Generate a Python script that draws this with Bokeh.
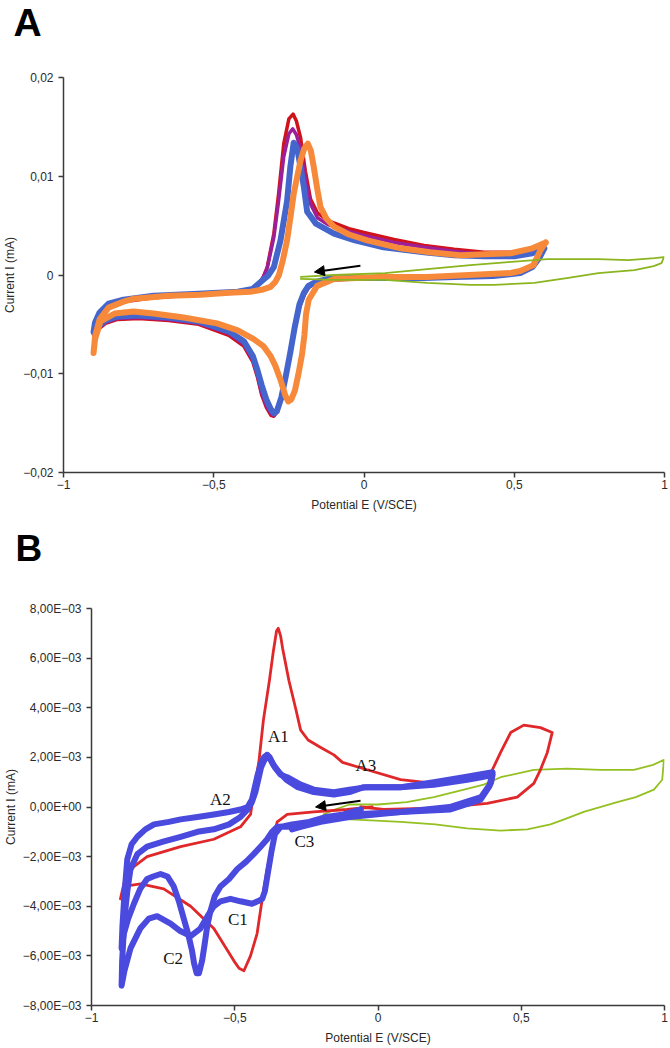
from bokeh.plotting import figure
from bokeh.models import Range1d, FixedTicker, Label, Arrow, NormalHead, Title
from bokeh.embed import file_html
from bokeh.resources import INLINE

# ---------------- ticks ----------------
X_TICKS = [-1, -0.5, 0, 0.5, 1]
X_TICK_LABELS = ["−1", "−0,5", "0", "0,5", "1"]
A_Y_TICKS = [-0.02, -0.01, 0, 0.01, 0.02]
A_Y_TICK_LABELS = ["−0,02", "−0,01", "0", "0,01", "0,02"]
B_Y_TICKS = [-0.008, -0.006, -0.004, -0.002, 0, 0.002, 0.004, 0.006, 0.008]
B_Y_TICK_LABELS = ["−8,00E−03", "−6,00E−03", "−4,00E−03", "−2,00E−03", "0,00E+00",
                   "2,00E−03", "4,00E−03", "6,00E−03", "8,00E−03"]

# ---------------- panel A data (E in V/SCE, I in mA) ----------------
A_RED = [(0.600, 0.0028), (0.585, 0.0019), (0.560, 0.0009), (0.520, 0.0003), (0.430, 0.0000),
         (0.300, -0.0002), (0.200, -0.0003), (0.050, -0.0004), (-0.050, -0.0004), (-0.120, -0.0005),
         (-0.160, -0.0008), (-0.185, -0.0013), (-0.200, -0.0021), (-0.215, -0.0033), (-0.230, -0.0055),
         (-0.245, -0.0080), (-0.260, -0.0104), (-0.275, -0.0126), (-0.290, -0.0139), (-0.300, -0.0143),
         (-0.310, -0.0142), (-0.325, -0.0134), (-0.340, -0.0122), (-0.355, -0.0103), (-0.370, -0.0088),
         (-0.400, -0.0072), (-0.450, -0.0061), (-0.550, -0.0050), (-0.650, -0.0046), (-0.750, -0.0044),
         (-0.820, -0.0045), (-0.860, -0.0049), (-0.885, -0.0055), (-0.900, -0.0061), (-0.895, -0.0052),
         (-0.880, -0.0041), (-0.850, -0.0032), (-0.800, -0.0027), (-0.700, -0.0023), (-0.550, -0.0020),
         (-0.420, -0.0018), (-0.370, -0.0015), (-0.350, -0.0009), (-0.335, -0.0002), (-0.322, 0.0008),
         (-0.300, 0.0042), (-0.285, 0.0080), (-0.267, 0.0133), (-0.250, 0.0158), (-0.236, 0.0163),
         (-0.225, 0.0156), (-0.211, 0.0139), (-0.195, 0.0105), (-0.178, 0.0077), (-0.155, 0.0063),
         (-0.120, 0.0055), (-0.050, 0.0047), (0.000, 0.0043), (0.100, 0.0036), (0.200, 0.0030),
         (0.300, 0.0026), (0.400, 0.0023), (0.500, 0.0023), (0.560, 0.0025), (0.600, 0.0028)]

A_PURPLE = [(0.600, 0.0027), (0.585, 0.0018), (0.560, 0.0008), (0.520, 0.0002), (0.430, -0.0001),
            (0.300, -0.0002), (0.200, -0.0003), (0.050, -0.0004), (-0.050, -0.0004), (-0.120, -0.0005),
            (-0.160, -0.0008), (-0.185, -0.0012), (-0.200, -0.0020), (-0.215, -0.0032), (-0.230, -0.0054),
            (-0.245, -0.0079), (-0.260, -0.0103), (-0.275, -0.0125), (-0.290, -0.0139), (-0.300, -0.0142),
            (-0.310, -0.0140), (-0.325, -0.0132), (-0.340, -0.0120), (-0.355, -0.0101), (-0.370, -0.0086),
            (-0.400, -0.0070), (-0.450, -0.0059), (-0.550, -0.0049), (-0.650, -0.0045), (-0.750, -0.0043),
            (-0.820, -0.0044), (-0.860, -0.0048), (-0.885, -0.0054), (-0.900, -0.0059), (-0.895, -0.0050),
            (-0.880, -0.0040), (-0.850, -0.0031), (-0.800, -0.0026), (-0.700, -0.0022), (-0.550, -0.0020),
            (-0.420, -0.0018), (-0.370, -0.0015), (-0.350, -0.0009), (-0.335, -0.0002), (-0.322, 0.0007),
            (-0.300, 0.0038), (-0.285, 0.0073), (-0.267, 0.0120), (-0.250, 0.0143), (-0.237, 0.0148),
            (-0.225, 0.0142), (-0.211, 0.0127), (-0.195, 0.0097), (-0.178, 0.0072), (-0.155, 0.0058),
            (-0.120, 0.0051), (-0.050, 0.0044), (0.000, 0.0040), (0.100, 0.0033), (0.200, 0.0028),
            (0.300, 0.0024), (0.400, 0.0021), (0.500, 0.0021), (0.560, 0.0023), (0.600, 0.0027)]

A_BLUE = [(0.600, 0.0027), (0.585, 0.0018), (0.560, 0.0008), (0.520, 0.0002), (0.430, -0.0001),
          (0.300, -0.0002), (0.200, -0.0003), (0.050, -0.0003), (-0.050, -0.0003), (-0.120, -0.0004),
          (-0.160, -0.0007), (-0.185, -0.0011), (-0.200, -0.0018), (-0.215, -0.0030), (-0.230, -0.0052),
          (-0.245, -0.0078), (-0.260, -0.0102), (-0.275, -0.0124), (-0.290, -0.0138), (-0.300, -0.0140),
          (-0.310, -0.0136), (-0.325, -0.0126), (-0.340, -0.0112), (-0.355, -0.0096), (-0.370, -0.0082),
          (-0.400, -0.0067), (-0.450, -0.0057), (-0.550, -0.0047), (-0.650, -0.0043), (-0.750, -0.0041),
          (-0.820, -0.0042), (-0.860, -0.0046), (-0.885, -0.0052), (-0.900, -0.0058), (-0.895, -0.0048),
          (-0.880, -0.0038), (-0.850, -0.0029), (-0.800, -0.0025), (-0.700, -0.0021), (-0.550, -0.0019),
          (-0.420, -0.0017), (-0.370, -0.0014), (-0.340, -0.0006), (-0.320, -0.0001), (-0.300, 0.0008),
          (-0.278, 0.0035), (-0.256, 0.0075), (-0.245, 0.0110), (-0.234, 0.0134), (-0.222, 0.0128),
          (-0.211, 0.0109), (-0.200, 0.0089), (-0.189, 0.0064), (-0.160, 0.0052), (-0.100, 0.0042),
          (-0.030, 0.0035), (0.065, 0.0028), (0.200, 0.0023), (0.300, 0.0020), (0.400, 0.0019),
          (0.500, 0.0019), (0.560, 0.0022), (0.600, 0.0027)]

A_ORANGE = [(0.605, 0.0033), (0.587, 0.0025), (0.564, 0.0010), (0.520, 0.0004), (0.488, 0.0002),
            (0.350, 0.0000), (0.210, -0.0002), (0.050, -0.0002), (-0.100, -0.0004), (-0.156, -0.0011),
            (-0.184, -0.0025), (-0.193, -0.0040), (-0.198, -0.0060), (-0.206, -0.0080), (-0.218, -0.0100),
            (-0.230, -0.0117), (-0.242, -0.0126), (-0.252, -0.0128), (-0.262, -0.0122), (-0.278, -0.0106),
            (-0.295, -0.0092), (-0.311, -0.0082), (-0.335, -0.0072), (-0.367, -0.0065), (-0.420, -0.0056),
            (-0.489, -0.0049), (-0.600, -0.0043), (-0.700, -0.0039), (-0.767, -0.0037), (-0.830, -0.0039),
            (-0.877, -0.0047), (-0.895, -0.0065), (-0.900, -0.0079), (-0.895, -0.0062), (-0.880, -0.0045),
            (-0.850, -0.0033), (-0.800, -0.0027), (-0.766, -0.0024), (-0.650, -0.0021), (-0.544, -0.0020),
            (-0.450, -0.0018), (-0.378, -0.0017), (-0.340, -0.0015), (-0.311, -0.0012), (-0.295, -0.0007),
            (-0.283, 0.0000), (-0.270, 0.0015), (-0.256, 0.0035), (-0.245, 0.0058), (-0.234, 0.0082),
            (-0.222, 0.0100), (-0.211, 0.0116), (-0.199, 0.0128), (-0.187, 0.0133), (-0.177, 0.0126),
            (-0.167, 0.0109), (-0.156, 0.0088), (-0.145, 0.0069), (-0.125, 0.0057), (-0.100, 0.0049),
            (-0.050, 0.0041), (0.011, 0.0035), (0.122, 0.0027), (0.220, 0.0023), (0.321, 0.0020),
            (0.488, 0.0022), (0.560, 0.0027), (0.605, 0.0033)]

A_GREEN = [(-0.210, -0.0002), (-0.100, 0.0000), (0.070, 0.0002), (0.210, 0.0006), (0.354, 0.0010),
           (0.480, 0.0013), (0.610, 0.0016), (0.780, 0.0016), (0.880, 0.0015), (0.967, 0.0017),
           (0.998, 0.0018), (0.990, 0.0012), (0.964, 0.0009), (0.900, 0.0005), (0.780, 0.0002),
           (0.680, -0.0003), (0.567, -0.0008), (0.432, -0.0010), (0.354, -0.0010), (0.210, -0.0008),
           (0.070, -0.0005), (-0.100, -0.0005), (-0.210, -0.0004)]

A_ARROW = [(-0.012, 0.00094), (-0.165, 0.0003)]

# ---------------- panel B data ----------------
B_RED = [(-0.020, 0.0000), (-0.108, -0.0001), (-0.224, -0.0002), (-0.317, -0.0003), (-0.340, -0.0005),
         (-0.352, -0.0006), (-0.369, -0.0015), (-0.387, -0.0025), (-0.404, -0.0037), (-0.422, -0.0051),
         (-0.445, -0.0060), (-0.468, -0.0066), (-0.485, -0.0065), (-0.503, -0.0062), (-0.573, -0.0049),
         (-0.654, -0.0040), (-0.748, -0.0033), (-0.829, -0.0031), (-0.887, -0.0032), (-0.899, -0.0037),
         (-0.885, -0.0030), (-0.852, -0.0024), (-0.806, -0.0020), (-0.689, -0.0016), (-0.573, -0.0013),
         (-0.480, -0.0008), (-0.445, -0.0003), (-0.433, 0.0006), (-0.415, 0.0019), (-0.400, 0.0035),
         (-0.379, 0.0051), (-0.365, 0.0063), (-0.354, 0.0071), (-0.348, 0.0072), (-0.340, 0.0069),
         (-0.333, 0.0064), (-0.311, 0.0051), (-0.288, 0.0040), (-0.270, 0.0031), (-0.244, 0.0027),
         (-0.200, 0.0024), (-0.154, 0.0021), (-0.124, 0.0018), (-0.038, 0.0015), (0.079, 0.0011),
         (0.195, 0.00095), (0.311, 0.0011), (0.393, 0.00135), (0.428, 0.0022), (0.463, 0.0030),
         (0.509, 0.0033), (0.567, 0.0032), (0.608, 0.0030), (0.591, 0.0022), (0.567, 0.0015),
         (0.544, 0.00095), (0.486, 0.0004), (0.381, 0.00015), (0.195, -0.00005), (0.020, -0.0001),
         (-0.060, 0.0000)]

B_BLUE_1 = [(-0.060, -0.0001), (-0.120, -0.0003), (-0.180, -0.0004), (-0.240, -0.0006), (-0.300, -0.0007),
            (-0.340, -0.0008), (-0.360, -0.0011), (-0.372, -0.0018), (-0.385, -0.0027), (-0.395, -0.0034),
            (-0.404, -0.0037), (-0.420, -0.0038), (-0.440, -0.0039), (-0.480, -0.0038), (-0.515, -0.0037),
            (-0.550, -0.0038), (-0.573, -0.0040), (-0.595, -0.0044), (-0.620, -0.0049), (-0.654, -0.0052),
            (-0.690, -0.0050), (-0.724, -0.0047), (-0.771, -0.0044), (-0.800, -0.0045), (-0.830, -0.0049),
            (-0.864, -0.0057), (-0.885, -0.0066), (-0.895, -0.0072), (-0.893, -0.0062), (-0.885, -0.0045),
            (-0.875, -0.0034), (-0.864, -0.0025), (-0.840, -0.0019), (-0.806, -0.0016), (-0.750, -0.0014),
            (-0.689, -0.0012), (-0.630, -0.0010), (-0.573, -0.0009), (-0.520, -0.0007), (-0.480, -0.0004),
            (-0.455, -0.0001), (-0.440, 0.0002), (-0.428, 0.0006), (-0.418, 0.0011), (-0.408, 0.0016),
            (-0.396, 0.0019), (-0.386, 0.0021), (-0.375, 0.0019), (-0.360, 0.0016), (-0.340, 0.0013),
            (-0.317, 0.0012), (-0.270, 0.0009), (-0.224, 0.0007), (-0.154, 0.0006), (-0.100, 0.0007),
            (-0.038, 0.0008), (0.079, 0.0008), (0.195, 0.0009), (0.311, 0.0011), (0.360, 0.0012),
            (0.400, 0.0013), (0.395, 0.0010), (0.387, 0.0008), (0.358, 0.0003), (0.253, -0.0001),
            (0.079, -0.0002), (-0.096, -0.0003), (-0.166, -0.0005), (-0.212, -0.0005), (-0.247, -0.0007),
            (-0.300, -0.0008), (-0.340, -0.0008)]

B_BLUE_2 = [(-0.340, -0.0008), (-0.352, -0.0008), (-0.370, -0.0010), (-0.387, -0.0013), (-0.410, -0.0016),
            (-0.434, -0.0019), (-0.460, -0.0022), (-0.491, -0.0025), (-0.520, -0.0029), (-0.550, -0.0032),
            (-0.570, -0.0036), (-0.585, -0.0042), (-0.596, -0.0048), (-0.606, -0.0056), (-0.614, -0.0062),
            (-0.625, -0.0067), (-0.633, -0.0067), (-0.642, -0.0063), (-0.649, -0.0058), (-0.663, -0.0051),
            (-0.678, -0.0045), (-0.695, -0.0038), (-0.713, -0.0032), (-0.735, -0.0028), (-0.759, -0.0027),
            (-0.785, -0.0028), (-0.806, -0.0029), (-0.830, -0.0033), (-0.852, -0.0039), (-0.872, -0.0045),
            (-0.887, -0.0051), (-0.895, -0.0057), (-0.892, -0.0048), (-0.885, -0.0035), (-0.875, -0.0021),
            (-0.860, -0.0015), (-0.840, -0.0012), (-0.812, -0.0009), (-0.782, -0.0007), (-0.730, -0.0006),
            (-0.689, -0.0005), (-0.630, -0.0004), (-0.573, -0.0003), (-0.520, -0.0002), (-0.480, -0.0001),
            (-0.455, 0.0000), (-0.440, 0.0003), (-0.430, 0.0008), (-0.420, 0.0013), (-0.410, 0.0017),
            (-0.398, 0.0020), (-0.388, 0.0021), (-0.378, 0.0020), (-0.365, 0.0017), (-0.345, 0.0014),
            (-0.320, 0.0011), (-0.280, 0.0008), (-0.224, 0.0006), (-0.154, 0.0005), (-0.100, 0.0006),
            (-0.050, 0.0008), (0.000, 0.0008), (0.080, 0.0008), (0.195, 0.0010), (0.300, 0.0012),
            (0.400, 0.0014), (0.390, 0.0009), (0.360, 0.0004), (0.250, 0.0000), (0.080, -0.0002),
            (-0.100, -0.0004), (-0.200, -0.0006), (-0.270, -0.0008), (-0.300, -0.0009)]

B_GREEN = [(-0.190, -0.0003), (-0.150, -0.0001), (-0.100, 0.0001), (0.000, 0.0001), (0.100, 0.0002),
           (0.195, 0.0004), (0.300, 0.0007), (0.369, 0.0009), (0.428, 0.0012), (0.544, 0.0015),
           (0.660, 0.00155), (0.777, 0.0015), (0.893, 0.0015), (0.960, 0.0017), (0.998, 0.0019),
           (0.992, 0.0011), (0.963, 0.0007), (0.900, 0.0004), (0.835, 0.0002), (0.718, -0.0002),
           (0.650, -0.0005), (0.602, -0.0007), (0.521, -0.0009), (0.428, -0.00095), (0.311, -0.00086),
           (0.200, -0.0007), (0.079, -0.0006), (-0.096, -0.0005), (-0.177, -0.00045), (-0.190, -0.0004)]

B_ARROW = [(-0.061, 0.00025), (-0.218, 0.0)]

B_PEAK_NAMES = ["A1", "A2", "A3", "C1", "C2", "C3"]
B_PEAK_E = [-0.348, -0.550, -0.042, -0.489, -0.715, -0.257]
B_PEAK_I = [0.00283, 0.00031, 0.00169, -0.00452, -0.00611, -0.00139]

FONT = "Liberation Sans"
AXIS_COLOR = "#3a3a3a"


def unzip(pairs):
    return [p[0] for p in pairs], [p[1] for p in pairs]


def style_axes(p, yticks, ylabels, y_standoff):
    p.xgrid.visible = False
    p.ygrid.visible = False
    p.outline_line_color = None
    p.background_fill_color = "white"
    p.border_fill_color = "white"
    p.xaxis.ticker = FixedTicker(ticks=X_TICKS)
    p.xaxis.major_label_overrides = dict(zip(X_TICKS, X_TICK_LABELS))
    p.yaxis.ticker = FixedTicker(ticks=yticks)
    p.yaxis.major_label_overrides = dict(zip(yticks, ylabels))
    for ax in (p.xaxis[0], p.yaxis[0]):
        ax.axis_line_color = AXIS_COLOR
        ax.axis_line_width = 1.5
        ax.major_tick_line_color = AXIS_COLOR
        ax.major_tick_line_width = 1.5
        ax.major_tick_in = 0
        ax.major_tick_out = 5
        ax.minor_tick_line_color = None
        ax.major_label_text_font = FONT
        ax.major_label_text_font_size = "12px"
        ax.major_label_text_color = "#2a2a2a"
        ax.axis_label_text_font = FONT
        ax.axis_label_text_font_size = "12px"
        ax.axis_label_text_font_style = "normal"
        ax.axis_label_text_color = "#2a2a2a"
    p.xaxis.major_label_standoff = 2
    p.xaxis.axis_label_standoff = 6
    p.yaxis.major_label_standoff = 5
    p.yaxis.axis_label_standoff = y_standoff


def add_panel_letter(p, letter, size, offset, gap):
    # invisible spacer between the frame and the letter, then the letter itself
    p.add_layout(Title(text="\u00a0", text_font_size="2px", standoff=gap), "above")
    p.add_layout(Title(text=letter, text_font=FONT, text_font_style="bold", text_font_size=size,
                       text_color="black", align="left", vertical_align="top",
                       standoff=0, offset=offset), "above")


# ---------------- figure A ----------------
pA = figure(width=670, height=514, output_backend="svg", toolbar_location=None,
            x_range=Range1d(-1, 1), y_range=Range1d(-0.02, 0.02),
            min_border_left=63, min_border_right=6, min_border_top=76, min_border_bottom=41,
            x_axis_label="Potential E (V/SCE)", y_axis_label="Current I (mA)")
style_axes(pA, A_Y_TICKS, A_Y_TICK_LABELS, 3)
add_panel_letter(pA, "A", "39px", -50, 28)

for data, color, w in [(A_RED, "#d0121b", 3.5), (A_PURPLE, "#9c1f9a", 3.5),
                       (A_BLUE, "#4466cc", 6.0), (A_ORANGE, "#f7893b", 6.0),
                       (A_GREEN, "#8ab51f", 1.8)]:
    xs, ys = unzip(data)
    pA.line(xs, ys, line_color=color, line_width=w, line_join="round", line_cap="round")

pA.add_layout(Arrow(end=NormalHead(size=10, fill_color="black", line_color="black"),
                    x_start=A_ARROW[0][0], y_start=A_ARROW[0][1],
                    x_end=A_ARROW[1][0], y_end=A_ARROW[1][1],
                    line_color="black", line_width=2))

# ---------------- figure B ----------------
pB = figure(width=670, height=533, output_backend="svg", toolbar_location=None,
            x_range=Range1d(-1, 1), y_range=Range1d(-0.008, 0.008),
            min_border_left=91, min_border_right=6, min_border_top=94, min_border_bottom=41,
            x_axis_label="Potential E (V/SCE)", y_axis_label="Current I (mA)")
style_axes(pB, B_Y_TICKS, B_Y_TICK_LABELS, 2)
add_panel_letter(pB, "B", "37px", -76, 34)

for data, color, w in [(B_GREEN, "#94c021", 1.8), (B_RED, "#e0282b", 2.8),
                       (B_BLUE_1, "#4a4ade", 6.0), (B_BLUE_2, "#4a4ade", 6.0)]:
    xs, ys = unzip(data)
    pB.line(xs, ys, line_color=color, line_width=w, line_join="round", line_cap="round")

pB.add_layout(Arrow(end=NormalHead(size=10, fill_color="black", line_color="black"),
                    x_start=B_ARROW[0][0], y_start=B_ARROW[0][1],
                    x_end=B_ARROW[1][0], y_end=B_ARROW[1][1],
                    line_color="black", line_width=2))
for name, e, i in zip(B_PEAK_NAMES, B_PEAK_E, B_PEAK_I):
    pB.add_layout(Label(x=e, y=i, text=name, text_font="Liberation Serif", text_font_size="17px",
                        text_align="center", text_baseline="middle", text_color="#111111"))

open("out.html", "w").write(file_html([pA, pB], INLINE))
